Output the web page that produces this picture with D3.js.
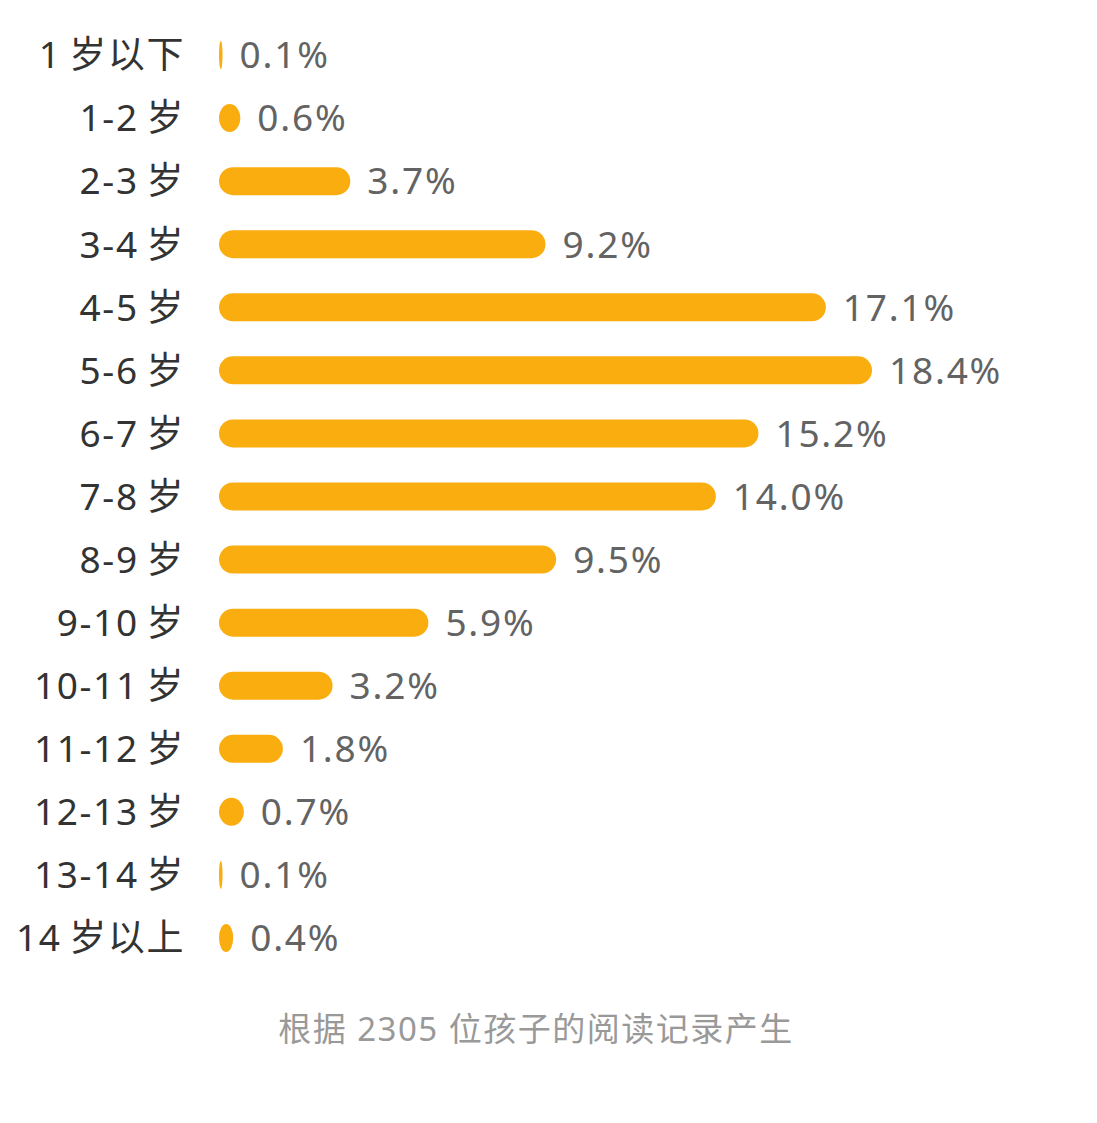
<!DOCTYPE html>
<html>
<head>
<meta charset="utf-8">
<script src="https://cdn.jsdelivr.net/npm/d3@7/dist/d3.min.js"></script>
<style>
  html, body { margin: 0; padding: 0; background: #fff; }
  svg { display: block; }
</style>
</head>
<body>
<svg id="chart" width="1097" height="1123"></svg>
<script>
const categories = ["1岁以下","1-2岁","2-3岁","3-4岁","4-5岁","5-6岁","6-7岁","7-8岁","8-9岁","9-10岁","10-11岁","11-12岁","12-13岁","13-14岁","14岁以上"];
const values = [0.1, 0.6, 3.7, 9.2, 17.1, 18.4, 15.2, 14.0, 9.5, 5.9, 3.2, 1.8, 0.7, 0.1, 0.4];
const valueLabels = ["0.1%","0.6%","3.7%","9.2%","17.1%","18.4%","15.2%","14.0%","9.5%","5.9%","3.2%","1.8%","0.7%","0.1%","0.4%"];
const footnote = "根据 2305 位孩子的阅读记录产生";

const svg = d3.select("#chart");
const font = "'Noto Sans', 'Noto Sans CJK SC', sans-serif";
const x0 = 219;
const x = d3.scaleLinear().domain([0, 18.4]).range([x0, 872]);
const y = d3.scaleBand().domain(categories).range([23.5, 969.5]).paddingInner(0.555).paddingOuter(0.277);
const barH = 28;

const rows = svg.selectAll("g.row").data(categories).join("g")
  .attr("class", "row")
  .attr("transform", d => `translate(0,${y(d) + y.bandwidth()/2})`);

rows.append("text")
  .attr("x", 185).attr("y", 0).attr("dy", "0.36em")
  .attr("text-anchor", "end")
  .attr("font-family", font).attr("font-size", 37)
  .attr("letter-spacing", 1.6)
  .attr("fill", "#333")
  .text(d => d.replace(/(\d)岁/, "$1\u2009岁"));

rows.append("rect")
  .attr("x", x0)
  .attr("y", -barH/2)
  .attr("width", (d,i) => Math.max(3.5, x(values[i]) - x0))
  .attr("height", barH)
  .attr("rx", (d,i) => Math.min(barH/2, Math.max(3.5, x(values[i]) - x0)/2))
  .attr("ry", barH/2)
  .attr("fill", "#FAAD0E");

rows.append("text")
  .attr("x", (d,i) => Math.max(x0 + 3.5, x(values[i])) + 17)
  .attr("y", 0).attr("dy", "0.36em")
  .attr("font-family", font).attr("font-size", 37)
  .attr("letter-spacing", 1.8)
  .attr("fill", "#636363")
  .text((d,i) => valueLabels[i]);

svg.append("text")
  .attr("x", 536).attr("y", 1041)
  .attr("text-anchor", "middle")
  .attr("font-family", font).attr("font-size", 33)
  .attr("letter-spacing", 1.5)
  .attr("fill", "#999")
  .text(footnote);
</script>
</body>
</html>
